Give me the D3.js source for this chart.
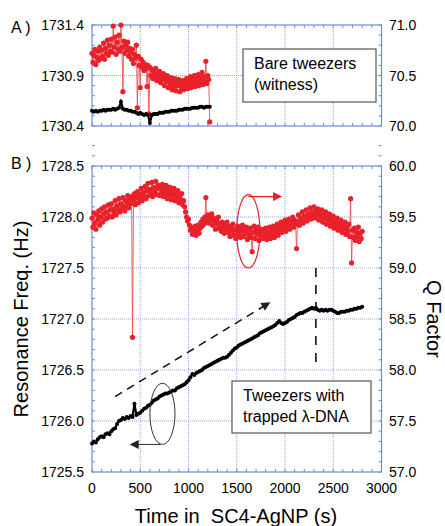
<!DOCTYPE html>
<html>
<head>
<meta charset="utf-8">
<script src="https://cdn.jsdelivr.net/npm/d3@7"></script>
<style>
  body { margin: 0; background: #fff; }
  svg { font-family: "Liberation Sans", Arial, Helvetica, sans-serif; }
</style>
</head>
<body>
<div id="chart"></div>
<script>
// Sampling intervals of the recorded traces (s)
const freqStep = 20;
const qStep = 10;

// Panel A: bare tweezers (witness), 0..1220 s
const freqA = [
  1730.55, 1730.54, 1730.55, 1730.54, 1730.55, 1730.55, 1730.56, 1730.55, 1730.56, 1730.56,
  1730.56, 1730.57, 1730.56, 1730.57, 1730.58, 1730.64, 1730.57, 1730.56, 1730.56, 1730.55,
  1730.55, 1730.54, 1730.54, 1730.53, 1730.52, 1730.53, 1730.52, 1730.51, 1730.52, 1730.51,
  1730.43, 1730.51, 1730.52, 1730.52, 1730.52, 1730.53, 1730.53, 1730.53, 1730.54, 1730.54,
  1730.54, 1730.55, 1730.55, 1730.55, 1730.55, 1730.56, 1730.56, 1730.56, 1730.57, 1730.57,
  1730.57, 1730.57, 1730.58, 1730.58, 1730.58, 1730.58, 1730.59, 1730.59, 1730.58, 1730.59,
  1730.59, 1730.59
];
const qFactorA = [
  70.72, 70.63, 70.70, 70.76, 70.61, 70.68, 70.74, 70.65, 70.78, 70.67,
  70.75, 70.69, 70.82, 70.66, 70.77, 70.72, 70.85, 70.70, 70.80, 70.74,
  70.86, 70.73, 70.99, 70.78, 70.88, 70.71, 70.83, 70.76, 70.90, 70.74,
  71.00, 70.78, 70.34, 70.84, 70.72, 70.80, 70.75, 70.83, 70.69, 70.77,
  70.73, 70.66, 70.76, 70.62, 70.71, 70.67, 70.80, 70.18, 70.69, 70.60,
  70.38, 70.66, 70.58, 70.63, 70.55, 70.61, 70.57, 70.39, 70.60, 70.12,
  70.58, 70.50, 70.56, 70.47, 70.54, 70.49, 70.57, 70.45, 70.52, 70.48,
  70.54, 70.43, 70.50, 70.46, 70.52, 70.40, 70.48, 70.44, 70.50, 70.38,
  70.46, 70.41, 70.48, 70.36, 70.44, 70.39, 70.47, 70.35, 70.43, 70.40,
  70.46, 70.34, 70.42, 70.38, 70.45, 70.36, 70.44, 70.40, 70.47, 70.37,
  70.45, 70.41, 70.49, 70.38, 70.46, 70.42, 70.50, 70.39, 70.47, 70.43,
  70.51, 70.40, 70.48, 70.44, 70.53, 70.41, 70.49, 70.45, 70.64, 70.42,
  70.50, 70.46, 70.04
];

// Panel B: tweezers with trapped lambda-DNA, 0..2800 s
const freqB = [
  1725.78, 1725.80, 1725.79, 1725.82, 1725.84, 1725.85, 1725.84, 1725.87, 1725.88, 1725.87,
  1725.90, 1725.92, 1725.93, 1725.97, 1726.00, 1726.01, 1726.03, 1726.02, 1726.04, 1726.03,
  1726.05, 1726.04, 1726.17, 1726.06, 1726.07, 1726.08, 1726.10, 1726.12, 1726.13, 1726.15,
  1726.16, 1726.18, 1726.20, 1726.21, 1726.22, 1726.24, 1726.25, 1726.26, 1726.27, 1726.27,
  1726.28, 1726.29, 1726.30, 1726.30, 1726.32, 1726.33, 1726.34, 1726.35, 1726.36, 1726.38,
  1726.40, 1726.43, 1726.46, 1726.45, 1726.47, 1726.48, 1726.49, 1726.50, 1726.52, 1726.53,
  1726.54, 1726.55, 1726.56, 1726.57, 1726.58, 1726.59, 1726.60, 1726.61, 1726.62, 1726.62,
  1726.63, 1726.65, 1726.67, 1726.69, 1726.71, 1726.72, 1726.74, 1726.75, 1726.76, 1726.77,
  1726.78, 1726.79, 1726.80, 1726.81, 1726.82, 1726.83, 1726.84, 1726.86, 1726.87, 1726.88,
  1726.89, 1726.90, 1726.91, 1726.92, 1726.93, 1726.94, 1726.96, 1726.98, 1726.96, 1726.95,
  1726.96, 1726.97, 1726.99, 1727.00, 1727.01, 1727.02, 1727.04, 1727.05, 1727.06, 1727.06,
  1727.07, 1727.08, 1727.09, 1727.10, 1727.11, 1727.10, 1727.11, 1727.09, 1727.08, 1727.09,
  1727.08, 1727.09, 1727.08, 1727.09, 1727.09, 1727.08, 1727.07, 1727.06, 1727.06, 1727.07,
  1727.07, 1727.07, 1727.08, 1727.08, 1727.09, 1727.09, 1727.10, 1727.10, 1727.11, 1727.11,
  1727.12
];
const qFactorB = [
  59.49, 59.40, 59.54, 59.44, 59.38, 59.52, 59.47, 59.56, 59.42, 59.50,
  59.58, 59.45, 59.53, 59.60, 59.48, 59.55, 59.49, 59.62, 59.51, 59.57,
  59.63, 59.50, 59.58, 59.54, 59.66, 59.52, 59.61, 59.57, 59.68, 59.55,
  59.63, 59.58, 59.69, 59.60, 59.56, 59.66, 59.62, 59.71, 59.59, 59.67,
  59.63, 59.70, 58.32, 59.66, 59.73, 59.62, 59.69, 59.75, 59.64, 59.72,
  59.68, 59.78, 59.66, 59.74, 59.70, 59.80, 59.68, 59.76, 59.83, 59.71,
  59.77, 59.73, 59.84, 59.70, 59.79, 59.75, 59.85, 59.72, 59.78, 59.81,
  59.71, 59.79, 59.74, 59.82, 59.70, 59.77, 59.73, 59.81, 59.68, 59.76,
  59.72, 59.79, 59.67, 59.75, 59.71, 59.78, 59.66, 59.73, 59.69, 59.76,
  59.64, 59.71, 59.67, 59.73, 59.62, 59.66, 59.60, 59.55, 59.50, 59.46,
  59.48, 59.42, 59.37, 59.40, 59.33, 59.38, 59.35, 59.41, 59.32, 59.37,
  59.42, 59.34, 59.39, 59.45, 59.41, 59.48, 59.43, 59.50, 59.69, 59.46,
  59.52, 59.44, 59.50, 59.47, 59.53, 59.42, 59.49, 59.45, 59.38, 59.47,
  59.43, 59.50, 59.39, 59.44, 59.36, 59.45, 59.40, 59.34, 59.43, 59.38,
  59.45, 59.35, 59.41, 59.31, 59.39, 59.36, 59.43, 59.32, 59.38, 59.29,
  59.37, 59.41, 59.33, 59.39, 59.30, 59.36, 59.42, 59.31, 59.38, 59.34,
  59.40, 59.28, 59.36, 59.32, 59.39, 59.30, 59.16, 59.35, 59.41, 59.29,
  59.37, 59.33, 59.40, 59.27, 59.35, 59.31, 59.38, 59.29, 59.36, 59.32,
  59.39, 59.28, 59.35, 59.31, 59.40, 59.29, 59.37, 59.33, 59.41, 59.30,
  59.38, 59.34, 59.43, 59.32, 59.40, 59.36, 59.45, 59.35, 59.42, 59.38,
  59.47, 59.36, 59.44, 59.40, 59.48, 59.38, 59.46, 59.42, 59.50, 59.40,
  59.47, 59.43, 59.19, 59.45, 59.52, 59.42, 59.49, 59.46, 59.55, 59.44,
  59.51, 59.47, 59.57, 59.46, 59.53, 59.50, 59.59, 59.48, 59.55, 59.51,
  59.60, 59.49, 59.56, 59.52, 59.58, 59.47, 59.54, 59.50, 59.57, 59.45,
  59.52, 59.48, 59.55, 59.43, 59.50, 59.46, 59.53, 59.41, 59.48, 59.44,
  59.51, 59.39, 59.46, 59.42, 59.49, 59.37, 59.44, 59.40, 59.47, 59.35,
  59.42, 59.38, 59.45, 59.33, 59.40, 59.36, 59.43, 59.31, 59.68, 59.05,
  59.37, 59.30, 59.39, 59.27, 59.35, 59.31, 59.40, 59.26, 59.34, 59.29,
  59.36
];

// Axis tick values
const timeTicks = [0, 500, 1000, 1500, 2000, 2500, 3000];
const freqTicksA = [1730.4, 1730.9, 1731.4];
const qTicksA = [70.0, 70.5, 71.0];
const freqTicksB = [1725.5, 1726.0, 1726.5, 1727.0, 1727.5, 1728.0, 1728.5];
const qTicksB = [57.0, 57.5, 58.0, 58.5, 59.0, 59.5, 60.0];

const width = 445, height = 526;
const red = "#e8212a", axisBlue = "#6f8bd8", gridBlue = "#93a8e4";

const svg = d3.select("#chart").append("svg")
  .attr("width", width).attr("height", height);

// Arrow heads
const defs = svg.append("defs");
function arrowMarker(id, color) {
  defs.append("marker")
    .attr("id", id).attr("viewBox", "0 0 10 10")
    .attr("refX", 9).attr("refY", 5)
    .attr("markerWidth", 11).attr("markerHeight", 9)
    .attr("markerUnits", "userSpaceOnUse")
    .attr("orient", "auto")
    .append("path").attr("d", "M0,0L10,5L0,10Z").attr("fill", color);
}
arrowMarker("arrowRed", red);
arrowMarker("arrowBlack", "#222");

const x = d3.scaleLinear().domain([0, 3000]).range([92, 381.5]);

// Draw one panel: frame, grid, ticks, labels, two traces
function drawPanel(p) {
  const g = svg.append("g");
  const [top, bottom] = [p.top, p.bottom];
  const yL = d3.scaleLinear().domain(p.freqDomain).range([bottom, top]);
  const yR = d3.scaleLinear().domain(p.qDomain).range([bottom, top]);

  // dotted grid
  g.selectAll("line.vgrid").data(timeTicks.slice(1, -1)).join("line")
    .attr("x1", d => x(d)).attr("x2", d => x(d))
    .attr("y1", top).attr("y2", bottom)
    .attr("stroke", gridBlue).attr("stroke-width", 1).attr("stroke-dasharray", "1,1");
  g.selectAll("line.hgrid").data(p.freqTicks.slice(1, -1)).join("line")
    .attr("x1", x.range()[0]).attr("x2", x.range()[1])
    .attr("y1", d => yL(d)).attr("y2", d => yL(d))
    .attr("stroke", gridBlue).attr("stroke-width", 1).attr("stroke-dasharray", "1,1");

  // minor ticks pointing inward on all sides
  const minorT = d3.range(0, 3001, 100);
  const minorQ = d3.range(0, 11 * (p.qDomain[1] - p.qDomain[0]) - 0.5, 1)
    .map(i => p.qDomain[0] + i / 10);
  const tk = g.append("g").attr("stroke", axisBlue).attr("stroke-width", 1);
  minorT.forEach(t => {
    tk.append("line").attr("x1", x(t)).attr("x2", x(t)).attr("y1", top).attr("y2", top + 3);
    tk.append("line").attr("x1", x(t)).attr("x2", x(t)).attr("y1", bottom).attr("y2", bottom - 3);
  });
  minorQ.forEach(q => {
    tk.append("line").attr("x1", x.range()[0]).attr("x2", x.range()[0] + 3).attr("y1", yR(q)).attr("y2", yR(q));
    tk.append("line").attr("x1", x.range()[1]).attr("x2", x.range()[1] - 3).attr("y1", yR(q)).attr("y2", yR(q));
  });

  // frame
  g.append("rect")
    .attr("x", x.range()[0]).attr("y", top)
    .attr("width", x.range()[1] - x.range()[0]).attr("height", bottom - top)
    .attr("fill", "none").attr("stroke", axisBlue).attr("stroke-width", 1.2);

  // tick labels
  g.selectAll("text.yl").data(p.freqTicks).join("text")
    .attr("x", 84).attr("y", d => yL(d) + 5)
    .attr("text-anchor", "end").attr("font-size", 14).text(d => d.toFixed(1));
  g.selectAll("text.yr").data(p.qTicks).join("text")
    .attr("x", 389).attr("y", d => yR(d) + 5)
    .attr("font-size", 14).text(d => d.toFixed(1));
  if (p.showTime) {
    g.selectAll("text.xt").data(timeTicks).join("text")
      .attr("x", d => x(d)).attr("y", bottom + 21)
      .attr("text-anchor", "middle").attr("font-size", 14).text(d => d);
  }

  // panel letter
  g.append("text").attr("x", 11).attr("y", p.letterY)
    .attr("font-size", 16).text(p.letter);

  // traces: Q factor (red, right axis), frequency (black, left axis)
  const qPts = p.q.map((v, i) => [i * qStep, v]);
  const fPts = p.freq.map((v, i) => [i * freqStep, v]);

  g.append("path").datum(qPts)
    .attr("d", d3.line().x(d => x(d[0])).y(d => yR(d[1])))
    .attr("fill", "none").attr("stroke", "#ee5055").attr("stroke-width", 0.9);
  g.selectAll("circle.q").data(qPts).join("circle")
    .attr("cx", d => x(d[0])).attr("cy", d => yR(d[1])).attr("r", 2.6)
    .attr("fill", red);

  g.append("path").datum(fPts)
    .attr("d", d3.line().x(d => x(d[0])).y(d => yL(d[1])))
    .attr("fill", "none").attr("stroke", "#000").attr("stroke-width", 2.2);
  g.selectAll("circle.f").data(fPts).join("circle")
    .attr("cx", d => x(d[0])).attr("cy", d => yL(d[1])).attr("r", 2.0)
    .attr("fill", "#000");

  return { g, yL, yR };
}

// Text box with two lines
function textBox(x0, y0, w, h, lines) {
  svg.append("rect").attr("x", x0).attr("y", y0).attr("width", w).attr("height", h)
    .attr("fill", "#fff").attr("stroke", "#555").attr("stroke-width", 1.2);
  lines.forEach((t, i) => {
    svg.append("text").attr("x", x0 + 11).attr("y", y0 + 20 + i * 20.5)
      .attr("font-size", 16).text(t);
  });
}

const panelA = drawPanel({
  top: 25, bottom: 126, freqDomain: [1730.4, 1731.4], qDomain: [70, 71],
  freqTicks: freqTicksA, qTicks: qTicksA, freq: freqA, q: qFactorA,
  letter: "A )", letterY: 33, showTime: false
});
const panelB = drawPanel({
  top: 166, bottom: 472, freqDomain: [1725.5, 1728.5], qDomain: [57, 60],
  freqTicks: freqTicksB, qTicks: qTicksB, freq: freqB, q: qFactorB,
  letter: "B )", letterY: 169, showTime: true
});

textBox(243, 49, 133, 53, ["Bare tweezers", "(witness)"]);
textBox(232, 381, 139, 52, ["Tweezers with", "trapped \u03bb-DNA"]);

// Annotations in panel B (data coordinates)
const yL = panelB.yL, yR = panelB.yR;
// red ellipse around the Q trace, arrow to the right axis
svg.append("ellipse")
  .attr("cx", x(1620)).attr("cy", yR(59.36))
  .attr("rx", x(1740) - x(1620)).attr("ry", yR(59.0) - yR(59.36))
  .attr("fill", "none").attr("stroke", red).attr("stroke-width", 1.2);
svg.append("line")
  .attr("x1", x(1620)).attr("y1", yR(59.7)).attr("x2", x(1960)).attr("y2", yR(59.7))
  .attr("stroke", red).attr("stroke-width", 1.2).attr("marker-end", "url(#arrowRed)");

// black ellipse around the frequency trace, arrow to the left axis
svg.append("ellipse")
  .attr("cx", x(730)).attr("cy", yL(1726.07))
  .attr("rx", x(860) - x(730)).attr("ry", yL(1725.77) - yL(1726.07))
  .attr("fill", "none").attr("stroke", "#333").attr("stroke-width", 1);
svg.append("line")
  .attr("x1", x(710)).attr("y1", yL(1725.77)).attr("x2", x(400)).attr("y2", yL(1725.77))
  .attr("stroke", "#333").attr("stroke-width", 1).attr("marker-end", "url(#arrowBlack)");

// dashed trend arrow
svg.append("line")
  .attr("x1", x(240)).attr("y1", yL(1726.24)).attr("x2", x(1840)).attr("y2", yL(1727.16))
  .attr("stroke", "#111").attr("stroke-width", 1.5).attr("stroke-dasharray", "8,6")
  .attr("marker-end", "url(#arrowBlack)");

// vertical dashed marker where the frequency levels off
svg.append("line")
  .attr("x1", x(2320)).attr("y1", yL(1727.5)).attr("x2", x(2320)).attr("y2", yL(1726.5))
  .attr("stroke", "#111").attr("stroke-width", 1.6).attr("stroke-dasharray", "9,8");

// axis titles
svg.append("text")
  .attr("transform", `translate(28,319) rotate(-90)`)
  .attr("text-anchor", "middle").attr("font-size", 20).text("Resonance Freq. (Hz)");
svg.append("text")
  .attr("transform", `translate(427,319) rotate(90)`)
  .attr("text-anchor", "middle").attr("font-size", 20).text("Q Factor");
svg.append("text")
  .attr("x", 236).attr("y", 523)
  .attr("text-anchor", "middle").attr("font-size", 20)
  .attr("xml:space", "preserve").style("white-space", "pre")
  .text("Time in  SC4-AgNP (s)");
</script>
</body>
</html>
